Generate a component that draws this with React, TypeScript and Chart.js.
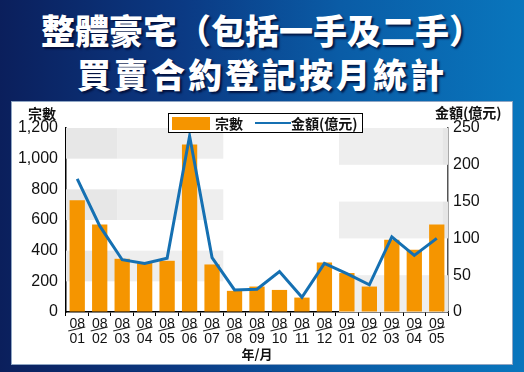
import React, { useEffect, useRef } from "react";
import { Chart, registerables } from "chart.js";

Chart.register(...registerables);

const categories: string[][] = [
  ["08", "01"], ["08", "02"], ["08", "03"], ["08", "04"], ["08", "05"], ["08", "06"],
  ["08", "07"], ["08", "08"], ["08", "09"], ["08", "10"], ["08", "11"], ["08", "12"],
  ["09", "01"], ["09", "02"], ["09", "03"], ["09", "04"], ["09", "05"],
];
const countValues = [728, 570, 347, 320, 334, 1092, 310, 138, 166, 144, 94, 323, 254, 166, 472, 406, 570];
const amountValues = [181, 117, 71, 66, 73, 239, 74, 30, 31, 55, 20, 66, 52, 37, 102, 77, 100];
const leftTicks = [0, 200, 400, 600, 800, 1000, 1200];
const rightTicks = [0, 50, 100, 150, 200, 250];

const titleLine1 = "整體豪宅（包括一手及二手）";
const titleLine2 = "買賣合約登記按月統計";
const countLabel = "宗數";
const amountLabel = "金額(億元)";
const xTitle = "年/月";

const ORANGE = "#f59500";
const BLUE = "#1570b2";
const FONT = "'Liberation Sans', Arial, sans-serif";
const CJK = "'Noto Sans CJK TC', 'Noto Sans CJK SC', sans-serif";

const bandsPlugin = {
  id: "bands",
  beforeDatasetsDraw(chart: any) {
    const { ctx, chartArea, scales } = chart;
    const x = scales.x;
    const step = x.getPixelForValue(1) - x.getPixelForValue(0);
    const at = (v: number) => x.getPixelForValue(0) + step * v;
    const yl = scales.y;
    const yr = scales.y1;
    ctx.save();
    const lStart = chartArea.left;
    const lMid = at(1.8);
    const lEnd = at(6.5);
    [[200, 400], [600, 800], [1000, 1200]].forEach(([a, b]) => {
      const t = yl.getPixelForValue(b);
      const h = yl.getPixelForValue(a) - t;
      ctx.fillStyle = "#e7e7e7";
      ctx.fillRect(lStart, t, lMid - lStart, h);
      ctx.fillStyle = "#eeeeee";
      ctx.fillRect(lMid, t, lEnd - lMid, h);
    });
    const rStart = at(11.65);
    const rMid = at(16.25);
    const rEnd = chartArea.right;
    [[0, 50], [100, 150], [200, 250]].forEach(([a, b]) => {
      const t = yr.getPixelForValue(b);
      const h = yr.getPixelForValue(a) - t;
      ctx.fillStyle = "#eeeeee";
      ctx.fillRect(rStart, t, rMid - rStart, h);
      ctx.fillStyle = "#e6e6e6";
      ctx.fillRect(rMid, t, rEnd - rMid, h);
    });
    ctx.restore();
  },
};

const slashPlugin = {
  id: "slash",
  afterDraw(chart: any) {
    const { ctx, scales } = chart;
    const x = scales.x;
    const yBase = scales.y.getPixelForValue(0) + 17;
    ctx.save();
    ctx.strokeStyle = "#222";
    ctx.lineWidth = 1.2;
    x.ticks.forEach((_: any, i: number) => {
      const px = x.getPixelForTick(i);
      ctx.beginPath();
      ctx.moveTo(px - 9, yBase + 2);
      ctx.lineTo(px + 8, yBase - 2);
      ctx.stroke();
    });
    ctx.restore();
  },
};

export default function App() {
  const ref = useRef<HTMLCanvasElement>(null);

  useEffect(() => {
    if (!ref.current) return;
    const chart = new Chart(ref.current, {
      type: "bar",
      data: {
        labels: categories,
        datasets: [
          {
            type: "line",
            label: amountLabel,
            data: amountValues,
            yAxisID: "y1",
            borderColor: BLUE,
            backgroundColor: BLUE,
            borderWidth: 3,
            pointRadius: 0,
            tension: 0,
            order: 0,
          } as any,
          {
            type: "bar",
            label: countLabel,
            data: countValues,
            yAxisID: "y",
            backgroundColor: ORANGE,
            barPercentage: 0.68,
            categoryPercentage: 1,
            order: 1,
          },
        ],
      },
      options: {
        responsive: false,
        animation: false,
        devicePixelRatio: 1,
        layout: { padding: { top: 26, left: 0, right: 0, bottom: 0 } },
        plugins: { legend: { display: false }, tooltip: { enabled: false } },
        scales: {
          x: {
            offset: true,
            grid: { offset: true, drawOnChartArea: false, tickLength: 4, color: "#000", tickColor: "#000" },
            border: { color: "#000", width: 1.5 },
            ticks: { color: "#111", font: { family: FONT, size: 14, lineHeight: 1.1 }, padding: 0, maxRotation: 0, autoSkip: false },
            title: { display: true, text: xTitle, color: "#111", font: { family: CJK, size: 13, weight: "bold" }, padding: { top: 0, bottom: 2 } },
            afterFit(scale: any) { scale.height = 52; },
          },
          y: {
            position: "left",
            min: 0,
            max: 1200,
            afterBuildTicks(scale: any) { scale.ticks = leftTicks.map((v) => ({ value: v })); },
            grid: { drawOnChartArea: false, drawTicks: false },
            border: { color: "#000", width: 1.5 },
            ticks: {
              color: "#111",
              padding: 8,
              font: { family: FONT, size: 16 },
              callback: (v: any) => Number(v).toLocaleString("en-US"),
            },
            afterFit(scale: any) { scale.width = 54; },
          },
          y1: {
            position: "right",
            min: 0,
            max: 250,
            afterBuildTicks(scale: any) { scale.ticks = rightTicks.map((v) => ({ value: v })); },
            grid: { drawOnChartArea: false, drawTicks: false },
            border: { color: "#555", width: 1.5 },
            ticks: { color: "#111", padding: 5, font: { family: FONT, size: 16 } },
            afterFit(scale: any) { scale.width = 64; },
          },
        },
      },
      plugins: [bandsPlugin, slashPlugin],
    });
    return () => chart.destroy();
  }, []);

  return (
    <div
      style={{
        position: "fixed",
        left: 0,
        top: 0,
        width: 524,
        height: 372,
        overflow: "hidden",
        background: "linear-gradient(90deg, #0b1f5c 0%, #0b3a84 35%, #0a5ca6 65%, #0976bd 100%)",
      }}
    >
      <div
        style={{
          position: "absolute",
          left: 0,
          top: 8,
          width: 524,
          textAlign: "center",
          color: "#fff",
          fontFamily: CJK,
          fontWeight: 900,
          fontSize: 34,
          lineHeight: "44px",
          textShadow: "2px 2px 2px rgba(0,10,50,0.85)",
        }}
      >
        <div>{titleLine1}</div>
        <div style={{ letterSpacing: 3 }}>{titleLine2}</div>
      </div>
      <div
        style={{
          position: "absolute",
          left: 12,
          top: 102,
          width: 500,
          height: 262,
          background: "#fff",
          boxShadow: "0 0 0 1px #8fa6c4",
        }}
      >
        <canvas ref={ref} width={500} height={262} style={{ width: 500, height: 262, display: "block" }} />
        <div style={{ position: "absolute", left: 16, top: 1, fontFamily: CJK, fontWeight: "bold", fontSize: 14, color: "#111" }}>
          {countLabel}
        </div>
        <div style={{ position: "absolute", left: 423, top: 0, fontFamily: CJK, fontWeight: "bold", fontSize: 14, color: "#111" }}>
          {amountLabel}
        </div>
        <div
          style={{
            position: "absolute",
            left: 156,
            top: 11,
            width: 195,
            height: 20,
            boxSizing: "border-box",
            border: "1.5px solid #000",
            background: "#fff",
            display: "flex",
            alignItems: "center",
            fontFamily: CJK,
            fontWeight: "bold",
            fontSize: 14,
            color: "#111",
            whiteSpace: "nowrap",
          }}
        >
          <span style={{ display: "inline-block", width: 38, height: 13, background: ORANGE, marginLeft: 3 }} />
          <span style={{ marginLeft: 5 }}>{countLabel}</span>
          <span style={{ display: "inline-block", width: 36, height: 2.5, background: BLUE, marginLeft: 12 }} />
          <span>{amountLabel}</span>
        </div>
      </div>
    </div>
  );
}
